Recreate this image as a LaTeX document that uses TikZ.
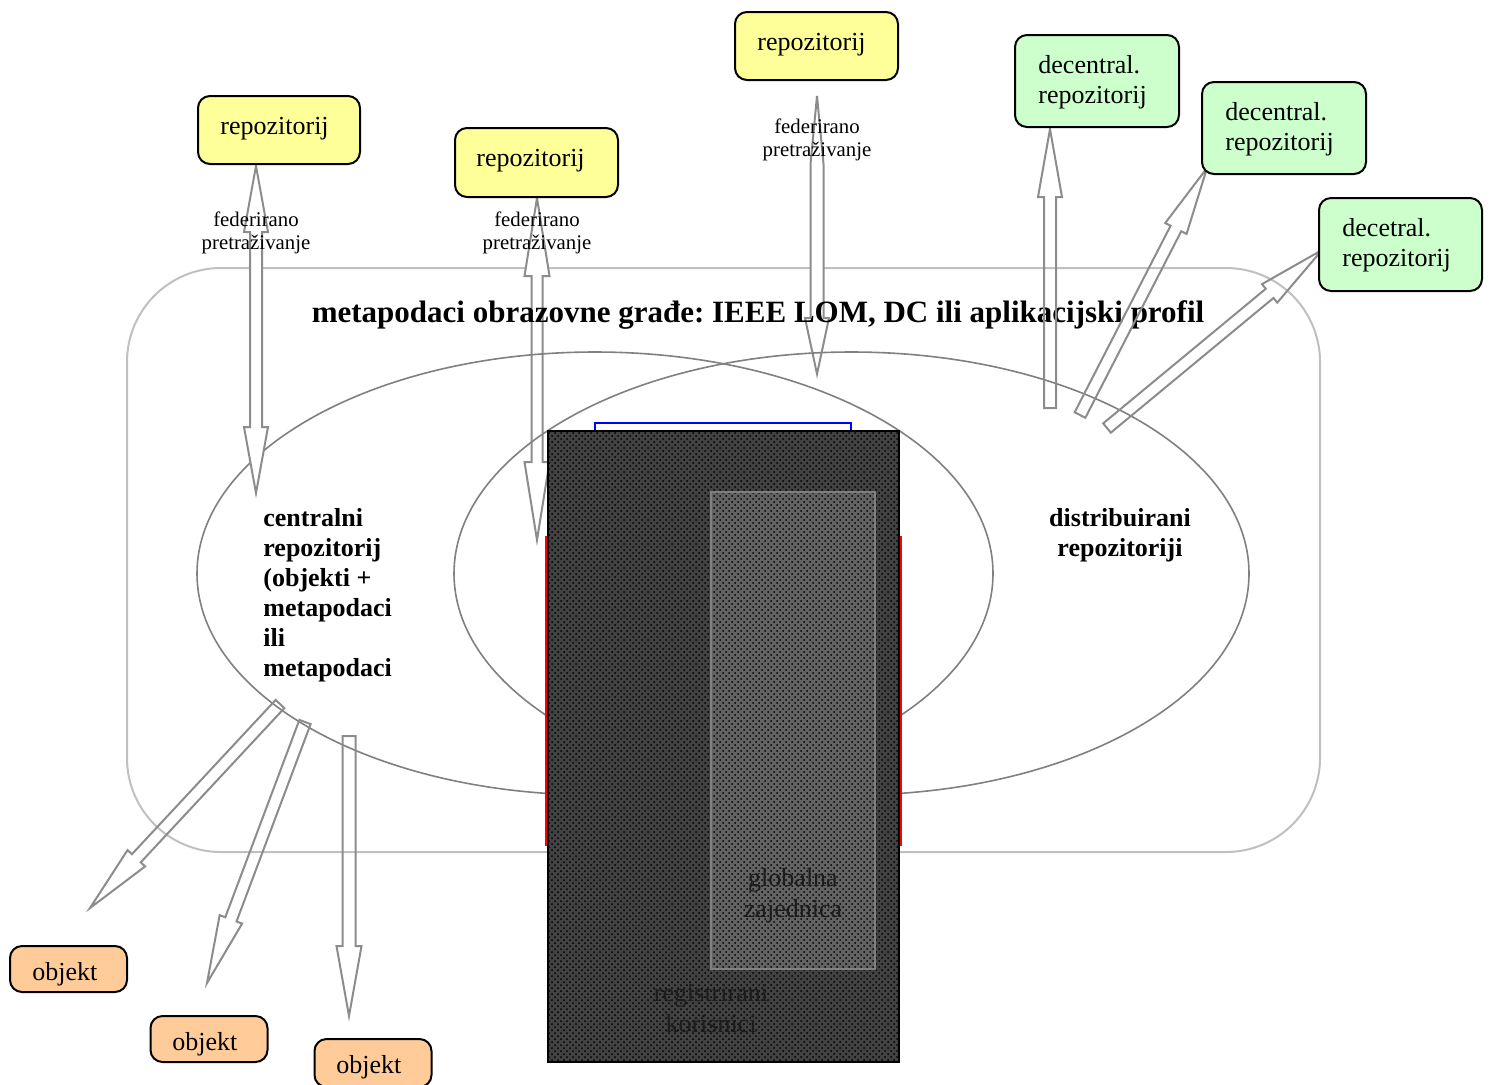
\documentclass[tikz,border=0pt]{standalone}
\usepackage{fontspec}
\setmainfont{Liberation Serif}
\usetikzlibrary{calc,patterns,shapes.geometric}

\definecolor{yel}{HTML}{FFFF99}
\definecolor{grn}{HTML}{CCFFCC}
\definecolor{org}{HTML}{FFCC99}
\definecolor{framec}{HTML}{C0C0C0}
\definecolor{ellc}{HTML}{808080}
\definecolor{arrc}{HTML}{8C8C8C}
\definecolor{darkfill}{HTML}{424242}
\definecolor{innerfill}{HTML}{636363}
\definecolor{innerline}{HTML}{808080}
\definecolor{darktext}{HTML}{1C1C1C}

\tikzset{
  box/.style={draw=black, line width=1pt, rounded corners=6pt, inner sep=0pt},
  ybox/.style={box, fill=yel},
  gbox/.style={box, fill=grn},
  obox/.style={box, fill=org, minimum width=58.5pt, minimum height=23pt},
  boxtext/.style={font=\fontsize{13}{15}\selectfont, inner sep=0pt, anchor=base west},
  fedtext/.style={font=\fontsize{10.4}{11.5}\selectfont, inner sep=0pt, anchor=base},
  boldtext/.style={font=\fontsize{13}{15}\selectfont\bfseries, inner sep=0pt},
  blk/.style={draw=arrc, line width=1pt, fill=white, line join=miter},
  blkopen/.style={draw=arrc, line width=1pt, line join=miter},
  ellnode/.style={draw=ellc, line width=0.8pt, ellipse, inner sep=0pt},
}

% single block arrow: tail, tip, half shaft, half head, head length, style
\newcommand\blockarrow[6]{%
  \coordinate (hb) at ($(#2)!#5!(#1)$);
  \draw[#6] ($(#1)!#3!90:(#2)$) -- ($(hb)!#3!90:(#2)$) -- ($(hb)!#4!90:(#2)$) -- (#2)
    -- ($(hb)!#4!-90:(#2)$) -- ($(hb)!#3!-90:(#2)$) -- ($(#1)!#3!-90:(#2)$) -- cycle;}

% double block arrow: tip a, tip b, half shaft, half head a, head length a, half head b, head length b, style
\newcommand\twowayarrow[8]{%
  \coordinate (ha) at ($(#1)!#5!(#2)$);
  \coordinate (hb) at ($(#2)!#7!(#1)$);
  \draw[#8] (#1) -- ($(ha)!#4!90:(#2)$) -- ($(ha)!#3!90:(#2)$) -- ($(hb)!#3!90:(#2)$)
    -- ($(hb)!#6!90:(#2)$) -- (#2) -- ($(hb)!#6!-90:(#2)$) -- ($(hb)!#3!-90:(#2)$)
    -- ($(ha)!#3!-90:(#2)$) -- ($(ha)!#4!-90:(#2)$) -- cycle;}

\begin{document}
\frenchspacing
\begin{tikzpicture}[x=0.5pt, y=-0.5pt]
\clip (0,0) rectangle (1493,1084);
\fill[white] (0,0) rectangle (1493,1084);

% outer frame of the metadata layer
\draw[framec, line width=1pt, rounded corners=47pt] (127,268) rectangle (1320,852);

% arrow end points
\coordinate (fedAtop) at (537,198);  \coordinate (fedAbot) at (537,540);
\coordinate (fedBtop) at (817,96);   \coordinate (fedBbot) at (817,374);
\coordinate (fedCtop) at (256,166);  \coordinate (fedCbot) at (256,493);
\coordinate (dec1tail) at (1050,408); \coordinate (dec1tip) at (1050,129);
\coordinate (dec2tail) at (1080,415); \coordinate (dec2tip) at (1207,168);
\coordinate (dec3tail) at (1107,428); \coordinate (dec3tip) at (1322,250);
\coordinate (obj1tail) at (280,704);  \coordinate (obj1tip) at (90,908);
\coordinate (obj2tail) at (305,722);  \coordinate (obj2tip) at (207,983);
\coordinate (obj3tail) at (349,736);  \coordinate (obj3tip) at (349,1016);

% federated search arrows lying under the ellipses
\twowayarrow{fedAtop}{fedAbot}{2.75pt}{6.25pt}{39pt}{6.25pt}{39pt}{blk}
\twowayarrow{fedBtop}{fedBbot}{3.25pt}{3.25pt}{34pt}{6pt}{28pt}{blk}

% the two repository ellipses
\node[ellnode, minimum width=398pt, minimum height=221.5pt] (central) at (595,573.5) {};
\node[ellnode, minimum width=397.5pt, minimum height=221.5pt] (distrib) at (851.5,573.5) {};

% title
\node[font=\fontsize{15.5}{18}\selectfont\bfseries, inner sep=0pt, anchor=base] (title) at (758,322)
  {metapodaci obrazovne građe: IEEE LOM, DC ili aplikacijski profil};

\twowayarrow{fedCtop}{fedCbot}{3pt}{6pt}{33pt}{6pt}{33pt}{blk}

% arrows to decentralised repositories
\blockarrow{dec1tail}{dec1tip}{3pt}{6pt}{34pt}{blkopen}
\blockarrow{dec2tail}{dec2tip}{3pt}{6pt}{34pt}{blkopen}
\blockarrow{dec3tail}{dec3tip}{3pt}{6pt}{34pt}{blkopen}

% arrows to objects
\blockarrow{obj1tail}{obj1tip}{3pt}{6pt}{34pt}{blkopen}
\blockarrow{obj2tail}{obj2tip}{3pt}{6pt}{34pt}{blkopen}
\blockarrow{obj3tail}{obj3tip}{3.25pt}{6.25pt}{35pt}{blkopen}

% labels of the federated search arrows
\node[fedtext] (fedClab) at (256,226) {\begin{tabular}[t]{@{}c@{}}federirano\\pretraživanje\end{tabular}};
\node[fedtext] (fedAlab) at (537,226) {\begin{tabular}[t]{@{}c@{}}federirano\\pretraživanje\end{tabular}};
\node[fedtext] (fedBlab) at (817,133) {\begin{tabular}[t]{@{}c@{}}federirano\\pretraživanje\end{tabular}};

% ellipse texts
\node[boldtext, anchor=base west] (centraltext) at (263,526)
  {\begin{tabular}[t]{@{}l@{}}centralni\\repozitorij\\(objekti +\\metapodaci\\ili\\metapodaci\end{tabular}};
\node[boldtext, anchor=base] (distribtext) at (1120,526)
  {\begin{tabular}[t]{@{}c@{}}distribuirani\\repozitoriji\end{tabular}};

% user communities block
\draw[blue, line width=1pt, fill=white] (595,423) rectangle (851,600);
\draw[red, line width=1pt, fill=white] (546,537) rectangle (901,845);
\path[draw=black, line width=1pt, preaction={fill=darkfill}, pattern=crosshatch dots, pattern color=black]
  (548,431) rectangle (899,1062);
\path[draw=innerline, line width=1pt, preaction={fill=innerfill}, pattern=crosshatch dots, pattern color=black]
  (711,492) rectangle (875,969);
\node[font=\fontsize{13}{15.5}\selectfont, text=darktext, inner sep=0pt, anchor=base] (global) at (793,886)
  {\begin{tabular}[t]{@{}c@{}}globalna\\zajednica\end{tabular}};
\node[font=\fontsize{13}{15.5}\selectfont, text=darktext, inner sep=0pt, anchor=base] (registered) at (711,1001)
  {\begin{tabular}[t]{@{}c@{}}registrirani\\korisnici\end{tabular}};

% repositories
\node[ybox, minimum width=81pt, minimum height=34pt] (repo1) at (279,130) {};
\node[boxtext] at (220,134) {repozitorij};
\node[ybox, minimum width=81.5pt, minimum height=34.5pt] (repo2) at (536.5,162.5) {};
\node[boxtext] at (476,166) {repozitorij};
\node[ybox, minimum width=81.5pt, minimum height=34pt] (repo3) at (816.5,46) {};
\node[boxtext] at (757,50) {repozitorij};

\node[gbox, minimum width=82pt, minimum height=46pt] (dec1) at (1097,81) {};
\node[boxtext] at (1038,73) {\begin{tabular}[t]{@{}l@{}}decentral.\\repozitorij\end{tabular}};
\node[gbox, minimum width=82pt, minimum height=46pt] (dec2) at (1284,128) {};
\node[boxtext] at (1225,120) {\begin{tabular}[t]{@{}l@{}}decentral.\\repozitorij\end{tabular}};
\node[gbox, minimum width=81.5pt, minimum height=46.5pt] (dec3) at (1400.5,244.5) {};
\node[boxtext] at (1342,236) {\begin{tabular}[t]{@{}l@{}}decetral.\\repozitorij\end{tabular}};

% objects
\node[obox] (obj1) at (68.5,969) {};
\node[boxtext] at (32,980) {objekt};
\node[obox] (obj2) at (209,1039) {};
\node[boxtext] at (172,1050) {objekt};
\node[obox, minimum height=24pt] (obj3) at (373,1063) {};
\node[boxtext] at (336,1073) {objekt};
\end{tikzpicture}
\end{document}
